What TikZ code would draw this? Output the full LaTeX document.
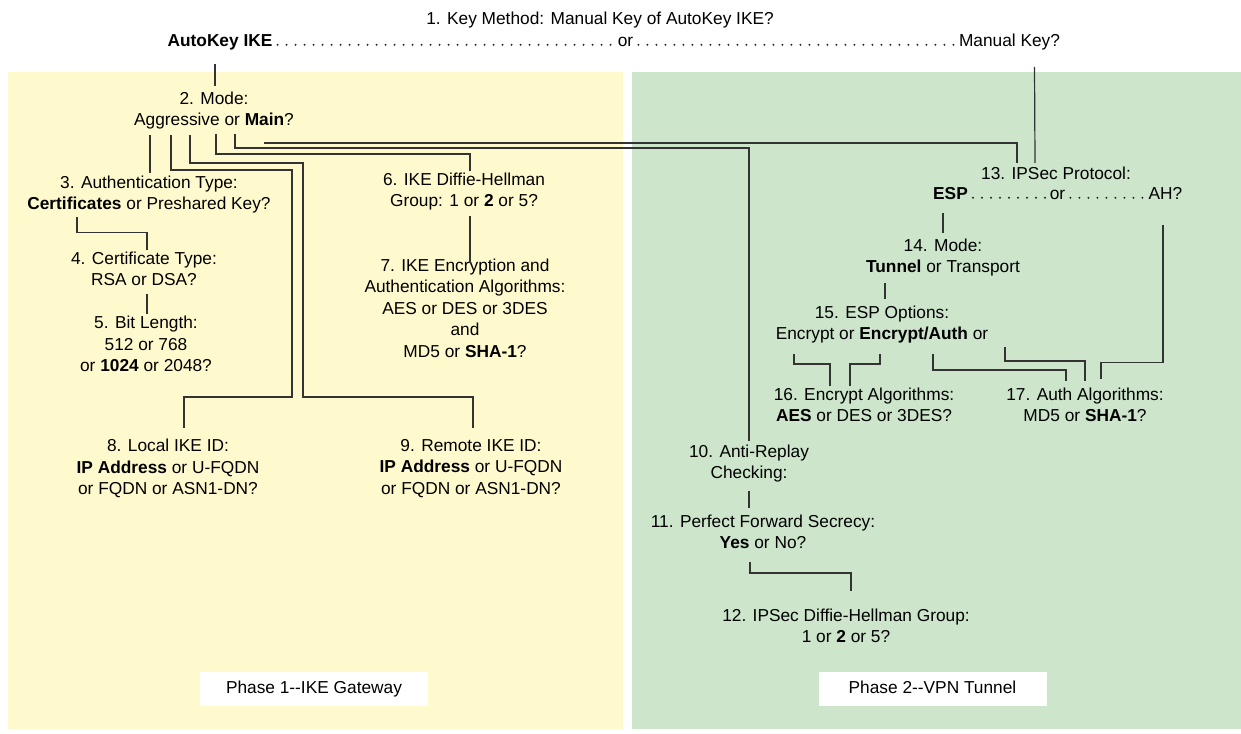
\documentclass[tikz,border=0pt]{standalone}
\usepackage{fontspec}
\setmainfont{Liberation Sans}
\usepackage{tikz}
\definecolor{phaseone}{HTML}{FFFACD}
\definecolor{phasetwo}{HTML}{CCE5CB}

\begin{document}
\begin{tikzpicture}[x=1pt,y=-1pt,
  q/.style={inner sep=0pt,align=center,font=\fontsize{17.3}{21.5}\selectfont,
    execute at begin node=\strut,execute at end node=\strut},
  conn/.style={line width=1.2pt,black!80},
  leader/.style={line width=2.2pt,line cap=round,dash pattern=on 0pt off 9pt,black!85},
  phase/.style={q,fill=white,minimum width=228pt,minimum height=34pt}]
  \useasboundingbox (0,0) rectangle (1241,733);
  \fill[phaseone] (8,72) rectangle (623,729);
  \fill[phasetwo] (632,72) rectangle (1241,729);

  \node[q] (keymethod) at (600,20) {1. Key Method: Manual Key of AutoKey IKE?};
  \node[q] (autokey) at (220,42) {\textbf{AutoKey IKE}};
  \node[q] (keyor) at (625.5,42) {or};
  \node[q] (manual) at (1009.5,42) {Manual Key?};
  \draw[leader] ([xshift=5pt,yshift=1.5pt]autokey.base east) -- ([xshift=-4pt,yshift=1.5pt]keyor.base west);
  \draw[leader] ([xshift=5pt,yshift=1.5pt]keyor.base east) -- ([xshift=-4pt,yshift=1.5pt]manual.base west);

  \node[q] (mode) at (214,112) {2. Mode:\\Aggressive or \textbf{Main}?};
  \node[q] (authtype) at (149,196) {3. Authentication Type:\\\textbf{Certificates} or Preshared Key?};
  \node[q] (certtype) at (144,272) {4. Certificate Type:\\RSA or DSA?};
  \node[q] (bitlen) at (146,347) {5. Bit Length:\\512 or 768\\or \textbf{1024} or 2048?};
  \node[q] (ikedh) at (464,193) {6. IKE Diffie-Hellman\\Group: 1 or \textbf{2} or 5?};
  \node[q] (ikealg) at (465,311) {7. IKE Encryption and\\Authentication Algorithms:\\AES or DES or 3DES\\and\\MD5 or \textbf{SHA-1}?};
  \node[q] (localid) at (168,470) {8. Local IKE ID:\\\textbf{IP Address} or U-FQDN\\or FQDN or ASN1-DN?};
  \node[q] (remoteid) at (471,470) {9. Remote IKE ID:\\\textbf{IP Address} or U-FQDN\\or FQDN or ASN1-DN?};
  \node[q] (replay) at (749,465) {10. Anti-Replay\\Checking:};
  \node[q] (pfs) at (763,535) {11. Perfect Forward Secrecy:\\\textbf{Yes} or No?};
  \node[q] (ipsecdh) at (846,629) {12. IPSec Diffie-Hellman Group:\\1 or \textbf{2} or 5?};
  \node[q] (proto) at (1056,175) {13. IPSec Protocol:};
  \node[q] (esp) at (950.5,195) {\textbf{ESP}};
  \node[q] (protoor) at (1057.5,195) {or};
  \node[q] (ah) at (1165.5,195) {AH?};
  \draw[leader] ([xshift=5pt,yshift=1.5pt]esp.base east) -- ([xshift=-4pt,yshift=1.5pt]protoor.base west);
  \draw[leader] ([xshift=5pt,yshift=1.5pt]protoor.base east) -- ([xshift=-4pt,yshift=1.5pt]ah.base west);
  \node[q] (tunmode) at (943,259) {14. Mode:\\\textbf{Tunnel} or Transport};
  \node[q] (espopt) at (882,326) {15. ESP Options:\\Encrypt or \textbf{Encrypt/Auth} or};
  \node[q] (encalg) at (864,408) {16. Encrypt Algorithms:\\\textbf{AES} or DES or 3DES?};
  \node[q] (authalg) at (1085,408) {17. Auth Algorithms:\\MD5 or \textbf{SHA-1}?};

  \node[phase] (phase1) at (314,689) {Phase 1-{}-IKE Gateway};
  \node[phase] (phase2) at (932.5,689) {Phase 2-{}-VPN Tunnel};

  \draw[conn] ([shift={(-5,11)}]autokey.south) -- ([shift={(1,-5.5)}]mode.north);
  \draw[conn] ([shift={(-64,2.5)}]mode.south) -- ([shift={(1,-2.5)}]authtype.north);
  \draw[conn] ([shift={(-43,2.5)}]mode.south) |- (292,170) -- (292,397) -| ([shift={(16,-10.75)}]localid.north);
  \draw[conn] ([shift={(-24,2.5)}]mode.south) |- (303,163) -- (303,397) -| ([shift={(2,-10.75)}]remoteid.north);
  \draw[conn] ([shift={(2,1.5)}]mode.south) -- ++(0,20) -| ([shift={(6,-1.5)}]ikedh.north);
  \draw[conn] ([shift={(21,1.5)}]mode.south) -- ++(0,14) -| ([shift={(0,-3.5)}]replay.north);
  \coordinate (mainend) at (264,143);
  \draw[conn] (mainend) -| ([shift={(-39,-1.25)}]proto.north);
  \draw[conn] ([shift={(25,14)}]manual.south) -- ([shift={(-21,-1.25)}]proto.north);
  \draw[conn] ([shift={(-72,1)}]authtype.south) -- ++(0,15) -| ([shift={(3,-1.5)}]certtype.north);
  \draw[conn] ([shift={(3,1.5)}]certtype.south) -- ([shift={(1,-1.75)}]bitlen.north);
  \draw[conn] ([shift={(6,2.5)}]ikedh.south) -- ([shift={(5,5)}]ikealg.north);
  \draw[conn] ([shift={(0,5.5)}]replay.south) -- ([shift={(-14,-6.5)}]pfs.north);
  \draw[conn] ([shift={(-13,6.5)}]pfs.south) -- ++(0,11) -| ([shift={(5,-17.5)}]ipsecdh.north);
  \draw[conn] ([shift={(-7.5,7.25)}]esp.south) -- ([shift={(0,-5.5)}]tunmode.north);
  \draw[conn] ([shift={(-58,3.5)}]tunmode.south) -- ([shift={(3,-6.5)}]espopt.north);
  \draw[conn] ([shift={(-88,7.5)}]espopt.south) -- ++(0,10) -| ([shift={(-34,-1.5)}]encalg.north);
  \draw[conn] ([shift={(-2,7.5)}]espopt.south) -- ++(0,10) -| ([shift={(-14,-1.5)}]encalg.north);
  \draw[conn] ([shift={(51,7.5)}]espopt.south) -- ++(0,16) -| ([shift={(-19,-6.5)}]authalg.north);
  \draw[conn] ([shift={(123,0.5)}]espopt.south) -- ++(0,14) -| ([shift={(0,-6.5)}]authalg.north);
  \draw[conn] ([shift={(-2.5,19.25)}]ah.south) -- ++(0,137) -| ([shift={(16,-8.5)}]authalg.north);
\end{tikzpicture}
\end{document}
